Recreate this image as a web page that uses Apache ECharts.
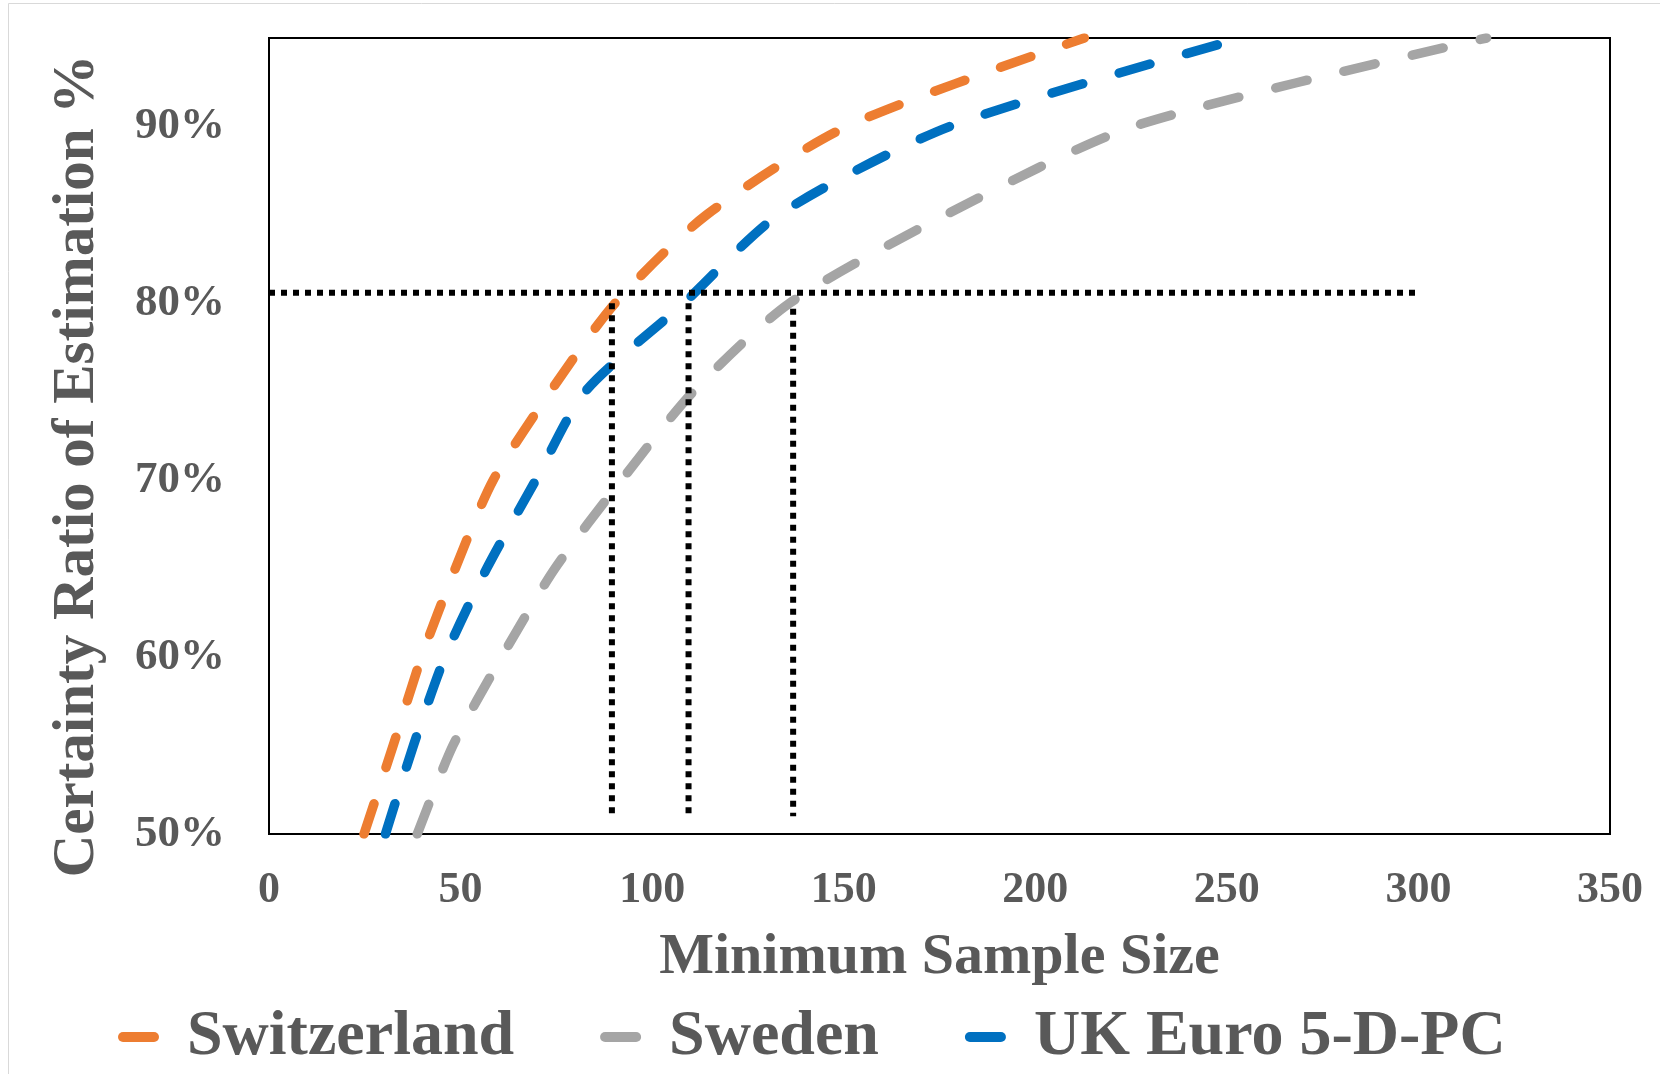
<!DOCTYPE html>
<html>
<head>
<meta charset="utf-8">
<title>Minimum Sample Size vs Certainty Ratio</title>
<script src="https://cdn.jsdelivr.net/npm/echarts@6/dist/echarts.min.js"></script>
<style>
  html, body { margin: 0; padding: 0; background: #ffffff; }
  #chart { width: 1660px; height: 1074px; }
</style>
</head>
<body>
<div id="chart"></div>
<script>
// Certainty ratio levels (%) shared by every curve
const certainty = [50, 55, 60, 65, 70, 75, 80, 85, 90, 95];

// Minimum sample size needed at each certainty level
const switzerland = [24.8, 32.4, 39.8, 48.6, 58.5, 73.4, 90.3, 114.2, 150.8, 212.8];
const sweden      = [38.7, 48.0, 60.7, 74.6, 92.0, 110.7, 135.8, 176.6, 225.6, 317.8];
const ukEuro      = [30.4, 37.7, 45.9, 56.8, 69.6, 82.5, 108.2, 133.0, 177.7, 253.9];

const seriesNames = ['Switzerland', 'Sweden', 'UK Euro 5-D-PC'];

// Dotted guide lines: the 80 % level and the sample sizes that reach it
const guideLevel = 80.6;
const guideLevelEnd = 300;
const guideSizes = [89.5, 109.5, 136.8];
const guideTops = [80.0, 80.0, 79.7];
const guideBottom = 51;

// Axis ticks
const xTicks = [0, 50, 100, 150, 200, 250, 300, 350];
const yTicks = [50, 60, 70, 80, 90];

const colors = {
  'Switzerland': '#ED7D31',
  'Sweden': '#A5A5A5',
  'UK Euro 5-D-PC': '#0070C0'
};
const textColor = '#595959';
const font = '"Liberation Serif", "Times New Roman", serif';

function pairs(xs, ys) {
  return xs.map((x, i) => [x, ys[i]]);
}

function curve(name, sizes) {
  return {
    name: name,
    type: 'line',
    data: pairs(sizes, certainty),
    smooth: 0.25,
    showSymbol: false,
    symbol: 'none',
    color: colors[name],
    lineStyle: {
      color: colors[name],
      width: 9.5,
      type: [32, 38],
      cap: 'round',
      join: 'round'
    },
    z: 3
  };
}

function guide(points) {
  return {
    type: 'line',
    data: points,
    symbol: 'none',
    silent: true,
    lineStyle: { color: '#000000', width: 6, type: [6, 6], cap: 'butt' },
    z: 4
  };
}

const guideSeries = [guide([[0, guideLevel], [guideLevelEnd, guideLevel]])].concat(
  guideSizes.map((s, i) => guide([[s, guideTops[i]], [s, guideBottom]]))
);

const chart = echarts.init(document.getElementById('chart'), null, { renderer: 'canvas' });

chart.setOption({
  animation: false,
  backgroundColor: '#ffffff',
  textStyle: { fontFamily: font },
  graphic: [{
    type: 'rect',
    shape: { x: 8.5, y: 3.5, width: 1700, height: 1100 },
    style: { fill: 'none', stroke: '#D9D9D9', lineWidth: 1 },
    silent: true,
    z: -10
  }],
  grid: {
    left: 269,
    right: 50,
    top: 38,
    bottom: 240,
    show: true,
    borderColor: '#000000',
    borderWidth: 2,
    backgroundColor: 'transparent'
  },
  legend: {
    data: seriesNames,
    left: 118,
    top: 1005,
    padding: 0,
    itemGap: 86,
    itemWidth: 41,
    itemHeight: 10,
    icon: 'path://M5,0 L36,0 A5,5 0 0 1 36,10 L5,10 A5,5 0 0 1 5,0 Z',
    textStyle: {
      color: textColor,
      fontFamily: font,
      fontWeight: 'bold',
      fontSize: 64,
      padding: [0, 0, 0, 23]
    }
  },
  xAxis: {
    type: 'value',
    min: xTicks[0],
    max: xTicks[xTicks.length - 1],
    interval: xTicks[1] - xTicks[0],
    name: 'Minimum Sample Size',
    nameLocation: 'middle',
    nameGap: 95,
    nameTextStyle: {
      color: textColor,
      fontFamily: font,
      fontWeight: 'bold',
      fontSize: 58
    },
    axisLine: { show: false },
    axisTick: { show: false },
    splitLine: { show: false },
    axisLabel: {
      color: textColor,
      fontFamily: font,
      fontWeight: 'bold',
      fontSize: 44,
      margin: 35
    }
  },
  yAxis: {
    type: 'value',
    min: yTicks[0],
    max: 95,
    interval: yTicks[1] - yTicks[0],
    name: 'Certainty Ratio of Estimation %',
    nameLocation: 'middle',
    nameGap: 162,
    nameTextStyle: {
      color: textColor,
      fontFamily: font,
      fontWeight: 'bold',
      fontSize: 59,
      padding: [0, 60, 0, 0]
    },
    axisLine: { show: false },
    axisTick: { show: false },
    splitLine: { show: false },
    axisLabel: {
      color: textColor,
      fontFamily: font,
      fontWeight: 'bold',
      fontSize: 45,
      margin: 44,
      padding: [6, 0, 0, 0],
      formatter: function (v) {
        return yTicks.indexOf(v) >= 0 ? v + '%' : '';
      }
    }
  },
  series: [
    curve('Switzerland', switzerland),
    curve('Sweden', sweden),
    curve('UK Euro 5-D-PC', ukEuro)
  ].concat(guideSeries)
});
</script>
</body>
</html>
